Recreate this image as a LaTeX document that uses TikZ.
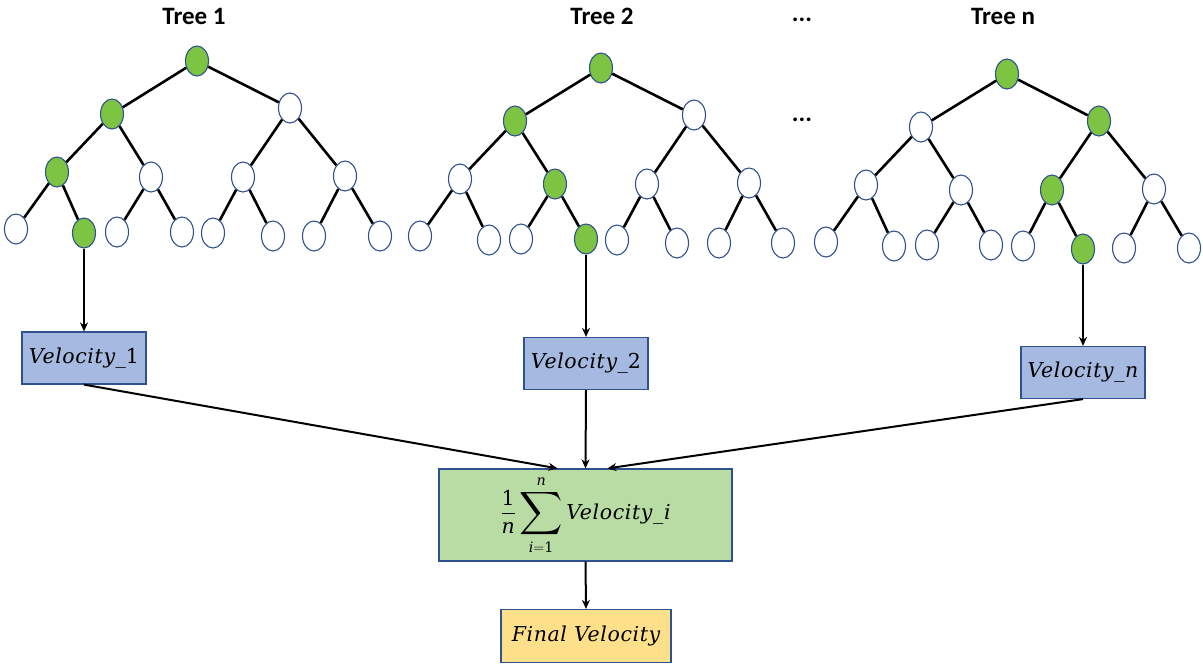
\documentclass[tikz,border=0pt]{standalone}
\usepackage{fontspec}
\usepackage{amsmath}
\usepackage{graphicx}
\usetikzlibrary{shapes.geometric,arrows.meta}
\newfontfamily\titlefont{Carlito}
\newfontfamily\vfont[LetterSpace=3]{DejaVu Serif}
\definecolor{nodeblue}{RGB}{47,82,143}
\definecolor{treegreen}{RGB}{124,196,66}
\definecolor{vblue}{RGB}{166,185,224}
\definecolor{ggreen}{RGB}{185,220,165}
\definecolor{fyellow}{RGB}{255,224,138}
\newcommand{\bigsum}{\mathop{\vcenter{\hbox{\scalebox{1.45}{$\displaystyle\sum$}}}}\limits}
\newcommand{\vi}[1]{\text{\vfont\itshape #1}}
\begin{document}
\begin{tikzpicture}[x=1pt,y=-1pt,
  tn/.style={ellipse,draw=nodeblue,line width=1.1pt,fill=white,minimum width=23pt,minimum height=30pt,inner sep=0pt},
  hit/.style={tn,fill=treegreen},
  edge/.style={line width=2.6pt,black},
  arr/.style={line width=2pt,black,-{Stealth[length=9pt,width=8pt]}},
  mfont/.style={font=\vfont\itshape\fontsize{20.5}{24}\selectfont},
  vbox/.style={draw=nodeblue,line width=1.2pt,fill=vblue,minimum width=124pt,minimum height=52pt,inner sep=0pt,mfont},
  ttl/.style={font=\titlefont\bfseries\fontsize{25}{30}\selectfont,inner sep=0pt,anchor=base}
]
\useasboundingbox (0,0) rectangle (1203,665);

% titles
\node[ttl] (tt1) at (194,24) {Tree 1};
\node[ttl] (tt2) at (602,24) {Tree 2};
\node[ttl] (tdots1) at (802,21) {...};
\node[ttl] (ttn) at (1003,24) {Tree n};
\node[ttl] (tdots2) at (802,121) {...};

% Tree 1
\node[hit] (t1r) at (197,61) {};
\node[hit] (t1a) at (112,114) {};
\node[tn] (t1b) at (290,108) {};
\node[hit] (t1c) at (57,172) {};
\node[tn] (t1d) at (151,177) {};
\node[tn] (t1e) at (243,177) {};
\node[tn] (t1f) at (345,176) {};
\node[tn] (t1l1) at (16,229) {};
\node[hit] (t1l2) at (84,233) {};
\node[tn] (t1l3) at (117,232) {};
\node[tn] (t1l4) at (182,232) {};
\node[tn] (t1l5) at (213,233) {};
\node[tn] (t1l6) at (273,236) {};
\node[tn] (t1l7) at (314,236) {};
\node[tn] (t1l8) at (380,236) {};

% Tree 2
\node[hit] (t2r) at (601,68) {};
\node[hit] (t2a) at (515,121) {};
\node[tn] (t2b) at (694,115) {};
\node[tn] (t2c) at (460,179) {};
\node[hit] (t2d) at (555,184) {};
\node[tn] (t2e) at (647,184) {};
\node[tn] (t2f) at (749,183) {};
\node[tn] (t2l1) at (420,236) {};
\node[tn] (t2l2) at (489,240) {};
\node[tn] (t2l3) at (521,239) {};
\node[hit] (t2l4) at (586,239) {};
\node[tn] (t2l5) at (617,240) {};
\node[tn] (t2l6) at (677,243) {};
\node[tn] (t2l7) at (719,243) {};
\node[tn] (t2l8) at (783,243) {};

% Tree n
\node[hit] (tnr) at (1007,74) {};
\node[tn] (tna) at (921,127) {};
\node[hit] (tnb) at (1099,121) {};
\node[tn] (tnc) at (866,185) {};
\node[tn] (tnd) at (961,190) {};
\node[hit] (tne) at (1052,190) {};
\node[tn] (tnf) at (1154,189) {};
\node[tn] (tnl1) at (826,242) {};
\node[tn] (tnl2) at (894,246) {};
\node[tn] (tnl3) at (927,245) {};
\node[tn] (tnl4) at (991,245) {};
\node[tn] (tnl5) at (1023,246) {};
\node[hit] (tnl6) at (1083,249) {};
\node[tn] (tnl7) at (1124,248) {};
\node[tn] (tnl8) at (1189,248) {};

\foreach \t in {t1,t2,tn}{
  \draw[edge] (\t r) -- (\t a);
  \draw[edge] (\t r) -- (\t b);
  \draw[edge] (\t a) -- (\t c);
  \draw[edge] (\t a) -- (\t d);
  \draw[edge] (\t b) -- (\t e);
  \draw[edge] (\t b) -- (\t f);
  \draw[edge] (\t c) -- (\t l1);
  \draw[edge] (\t c) -- (\t l2);
  \draw[edge] (\t d) -- (\t l3);
  \draw[edge] (\t d) -- (\t l4);
  \draw[edge] (\t e) -- (\t l5);
  \draw[edge] (\t e) -- (\t l6);
  \draw[edge] (\t f) -- (\t l7);
  \draw[edge] (\t f) -- (\t l8);
}

% velocity boxes
\node[vbox] (v1) at (84,358) {Velocity\_{\upshape 1}};
\node[vbox] (v2) at (586,363.5) {Velocity\_{\upshape 2}};
\node[vbox] (vn) at (1083,372.5) {Velocity\_n};

\node[draw=nodeblue,line width=1.2pt,fill=ggreen,minimum width=293pt,minimum height=92pt,inner sep=0pt,mfont]
  (g) at (585.5,515) {$\displaystyle\frac{\text{\vfont\upshape 1}}{\vi{n}}\bigsum_{\vi{i}=\text{\vfont\upshape 1}}^{\vi{n}} \vi{Velocity\_i}$};

\node[draw=nodeblue,line width=1.2pt,fill=fyellow,minimum width=170pt,minimum height=53pt,inner sep=0pt,mfont]
  (fv) at (586,636) {Final Velocity};

% arrows
\draw[arr] (t1l2) -- (v1.north);
\draw[arr] (t2l4) -- (v2.north);
\draw[arr] (tnl6) -- (vn.north);
\draw[arr] (v1.south) -- ([xshift=-28pt]g.north);
\draw[arr] (v2.south) -- (g.north);
\draw[arr] (vn.south) -- ([xshift=22pt]g.north);
\draw[arr] (g.south) -- (fv.north);
\end{tikzpicture}
\end{document}
